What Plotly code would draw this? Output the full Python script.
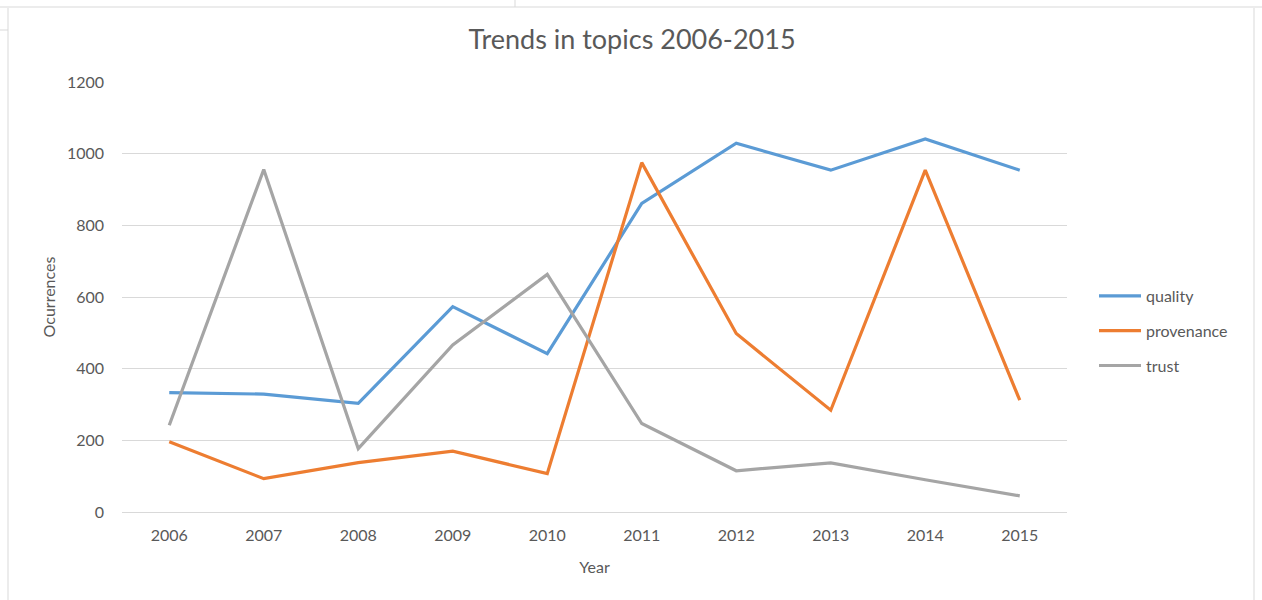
import plotly.graph_objects as go

years = ["2006", "2007", "2008", "2009", "2010", "2011", "2012", "2013", "2014", "2015"]
quality = [333, 329, 303, 573, 442, 861, 1029, 954, 1041, 954]
provenance = [196, 93, 138, 170, 107, 975, 498, 284, 954, 312]
trust = [242, 956, 177, 466, 663, 247, 115, 137, 90, 45]

series = [("quality", quality, "#5B9BD5"),
          ("provenance", provenance, "#ED7D31"),
          ("trust", trust, "#A5A5A5")]

FONT = "Lato"
TXT = "#595959"

fig = go.Figure()
for i, (name, vals, col) in enumerate(series):
    fig.add_trace(go.Scatter(x=years, y=vals, name=name, mode="lines",
                             legendgroup=name,
                             line=dict(color=col, width=3.2)))

W, H = 1262, 600
L, R, T, B = 122, 1067, 82, 512

def px(x):
    return (x - L) / (R - L)

def py(y):
    return (B - y) / (B - T)

shapes = []
lc = dict(color="#D9D9D9", width=1)
for (x0, y0, x1, y1) in [(0, 7, 1262, 7), (515, 0, 515, 7), (8, 8, 8, 600),
                         (1254, 8, 1254, 600), (0, 30, 8, 30)]:
    shapes.append(dict(type="line", xref="paper", yref="paper",
                       x0=px(x0), y0=py(y0), x1=px(x1), y1=py(y1), line=lc))

fig.update_layout(
    width=W, height=H,
    margin=dict(l=L, r=W - R, t=T, b=H - B, pad=0),
    paper_bgcolor="white", plot_bgcolor="white",
    font=dict(family=FONT, color=TXT, size=16),
    title=dict(text="Trends in topics 2006-2015", x=632 / W, xref="container",
               xanchor="center", y=1 - 40 / H, yref="container", yanchor="middle",
               font=dict(family=FONT, size=27, color=TXT)),
    xaxis=dict(type="category", range=[-0.5, 9.5], showgrid=False,
               showline=False, zeroline=False, ticks="",
               ticklabelstandoff=12,
               tickfont=dict(size=16, color=TXT),
               title=dict(text="Year", standoff=18, font=dict(size=16, color=TXT))),
    yaxis=dict(range=[0, 1200], dtick=200, showgrid=True, gridcolor="#D9D9D9",
               gridwidth=1, zeroline=True, zerolinecolor="#D9D9D9", zerolinewidth=1,
               showline=False, ticks="", ticklabelstandoff=17,
               tickfont=dict(size=16, color=TXT),
               title=dict(text="Ocurrences", standoff=7, font=dict(size=16, color=TXT))),
    legend=dict(x=px(1094), y=py(331), xanchor="left", yanchor="middle",
                font=dict(size=16, color=TXT), tracegroupgap=11, itemwidth=42,
                traceorder="grouped", bgcolor="rgba(0,0,0,0)"),
    shapes=shapes,
    showlegend=True,
)

fig.write_html("out.html", config={"displayModeBar": False},
               post_script="document.body.style.margin='0';document.body.style.overflow='hidden';")
